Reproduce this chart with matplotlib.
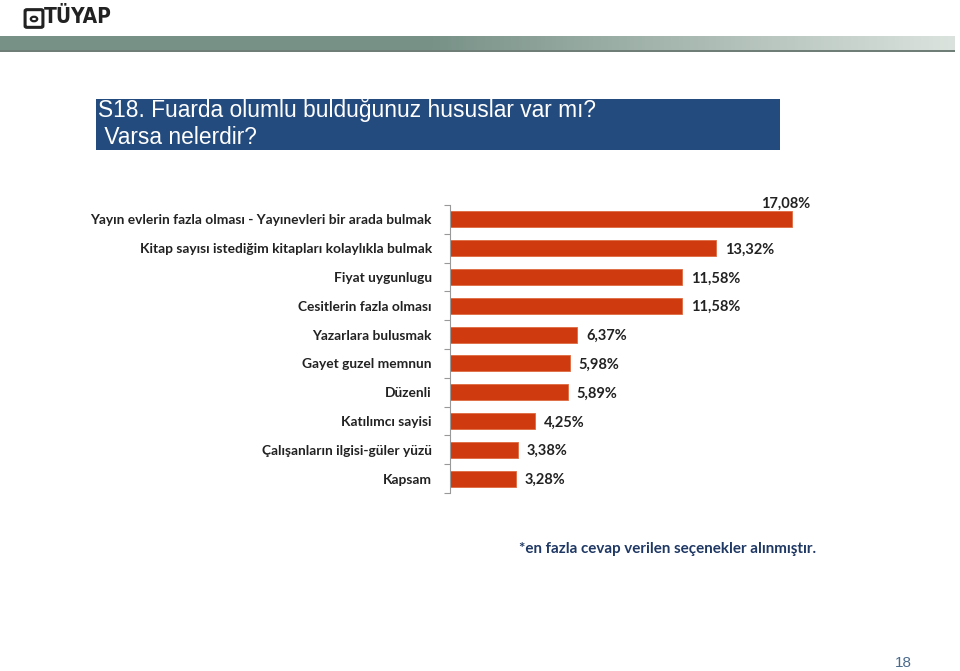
import matplotlib.pyplot as plt
import matplotlib.patches as mpatches
import numpy as np

categories = [
    "Yayın evlerin fazla olması - Yayınevleri bir arada bulmak",
    "Kitap sayısı istediğim kitapları kolaylıkla bulmak",
    "Fiyat uygunlugu",
    "Cesitlerin fazla olması",
    "Yazarlara bulusmak",
    "Gayet guzel memnun",
    "Düzenli",
    "Katılımcı sayisi",
    "Çalışanların ilgisi-güler yüzü",
    "Kapsam",
]
values = [17.08, 13.32, 11.58, 11.58, 6.37, 5.98, 5.89, 4.25, 3.38, 3.28]
value_labels = ["17,08%", "13,32%", "11,58%", "11,58%", "6,37%",
                "5,98%", "5,89%", "4,25%", "3,38%", "3,28%"]

title_lines = ["S18. Fuarda olumlu bulduğunuz hususlar var mı?", " Varsa nelerdir?"]
footnote = "*en fazla cevap verilen seçenekler alınmıştır."
page_no = "18"
logo_text = "TÜYAP"

W, H = 960, 671
fig = plt.figure(figsize=(W / 100, H / 100), dpi=100)
fig.patch.set_facecolor("white")

# header gradient band
band = fig.add_axes([0, 1 - 50 / H, 955 / W, 14 / H])
grad = np.linspace(0, 1, 256)
left_c = np.array([0.47, 0.57, 0.53])
right_c = np.array([0.86, 0.89, 0.87])
t = np.clip((grad - 0.45) / 0.55, 0, 1)
img = left_c[None, :] * (1 - t[:, None]) + right_c[None, :] * t[:, None]
band.imshow(img[None, :, :], aspect="auto", extent=[0, 1, 0, 1])
band.axis("off")
shadow = fig.add_axes([0, 1 - 52 / H, 955 / W, 2 / H])
shadow.set_facecolor("#6f7f78")
shadow.set_xticks([]); shadow.set_yticks([])
for s in shadow.spines.values():
    s.set_visible(False)

# logo: small box icon + text
fig.patches.append(mpatches.FancyBboxPatch((27 / W, 1 - 26 / H), 14 / W, 15 / H,
                                           boxstyle="round,pad=0.002",
                                           transform=fig.transFigure,
                                           facecolor="none", edgecolor="#222222",
                                           linewidth=2.2))
fig.patches.append(mpatches.Circle((34 / W, 1 - 19 / H), 3.2 / W,
                                   transform=fig.transFigure, facecolor="none",
                                   edgecolor="#222222", linewidth=1.6))
fig.text(44 / W, 1 - 17 / H, logo_text, fontsize=15, fontweight="heavy",
         family="DejaVu Sans", color="#222222", va="center", ha="left",
         fontstretch="condensed")

# title box
fig.patches.append(mpatches.Rectangle((96 / W, 1 - 150 / H), (780 - 96) / W, 51 / H,
                                      transform=fig.transFigure, facecolor="#244B7E",
                                      edgecolor="none"))
fig.text(98 / W, 1 - 111 / H, title_lines[0], fontsize=16.4, color="white",
         family="Liberation Sans", va="center", ha="left")
fig.text(98 / W, 1 - 138 / H, title_lines[1], fontsize=16.4, color="white",
         family="Liberation Sans", va="center", ha="left")

# bar chart
ax = fig.add_axes([450 / W, 1 - 493 / H, 390 / W, 288 / H])
y = np.arange(len(values))
ax.barh(y, values, height=0.56, color="#CF3A0E", edgecolor="#E06a40", linewidth=0.6)
ax.set_xlim(0, 390 / 20.0)
ax.set_ylim(len(values) - 0.5, -0.5)
for i, (v, lab) in enumerate(zip(values, value_labels)):
    if i == 0:
        ax.text(v - 1.55, i - 0.55, lab, fontsize=10.5, fontweight="bold",
                family="Lato", color="#222222", va="center", ha="left")
    else:
        ax.text(v + 0.45, i + 0.05, lab, fontsize=10.5, fontweight="bold",
                family="Lato", color="#222222", va="center", ha="left")
ax.set_yticks(y)
ax.set_yticklabels(categories, fontsize=9.9, fontweight="bold", family="Lato",
                   color="#222222")
ax.set_yticks(np.arange(-0.5, len(values), 1), minor=True)
ax.tick_params(axis="y", which="major", length=0, pad=13)
ax.tick_params(axis="y", which="minor", length=4, color="#999999", width=0.8)
ax.set_xticks([])
for s in ["top", "right", "bottom"]:
    ax.spines[s].set_visible(False)
ax.spines["left"].set_color("#999999")
ax.spines["left"].set_linewidth(0.8)

fig.text(668 / W, 1 - 549 / H, footnote, fontsize=10.9, fontweight="bold",
         family="Lato", color="#1F3864", va="center", ha="center")
fig.text(903 / W, 1 - 663 / H, page_no, fontsize=11, color="#4A6A8C",
         family="Liberation Sans", va="center", ha="center")

fig.savefig("out.png", dpi=100)
